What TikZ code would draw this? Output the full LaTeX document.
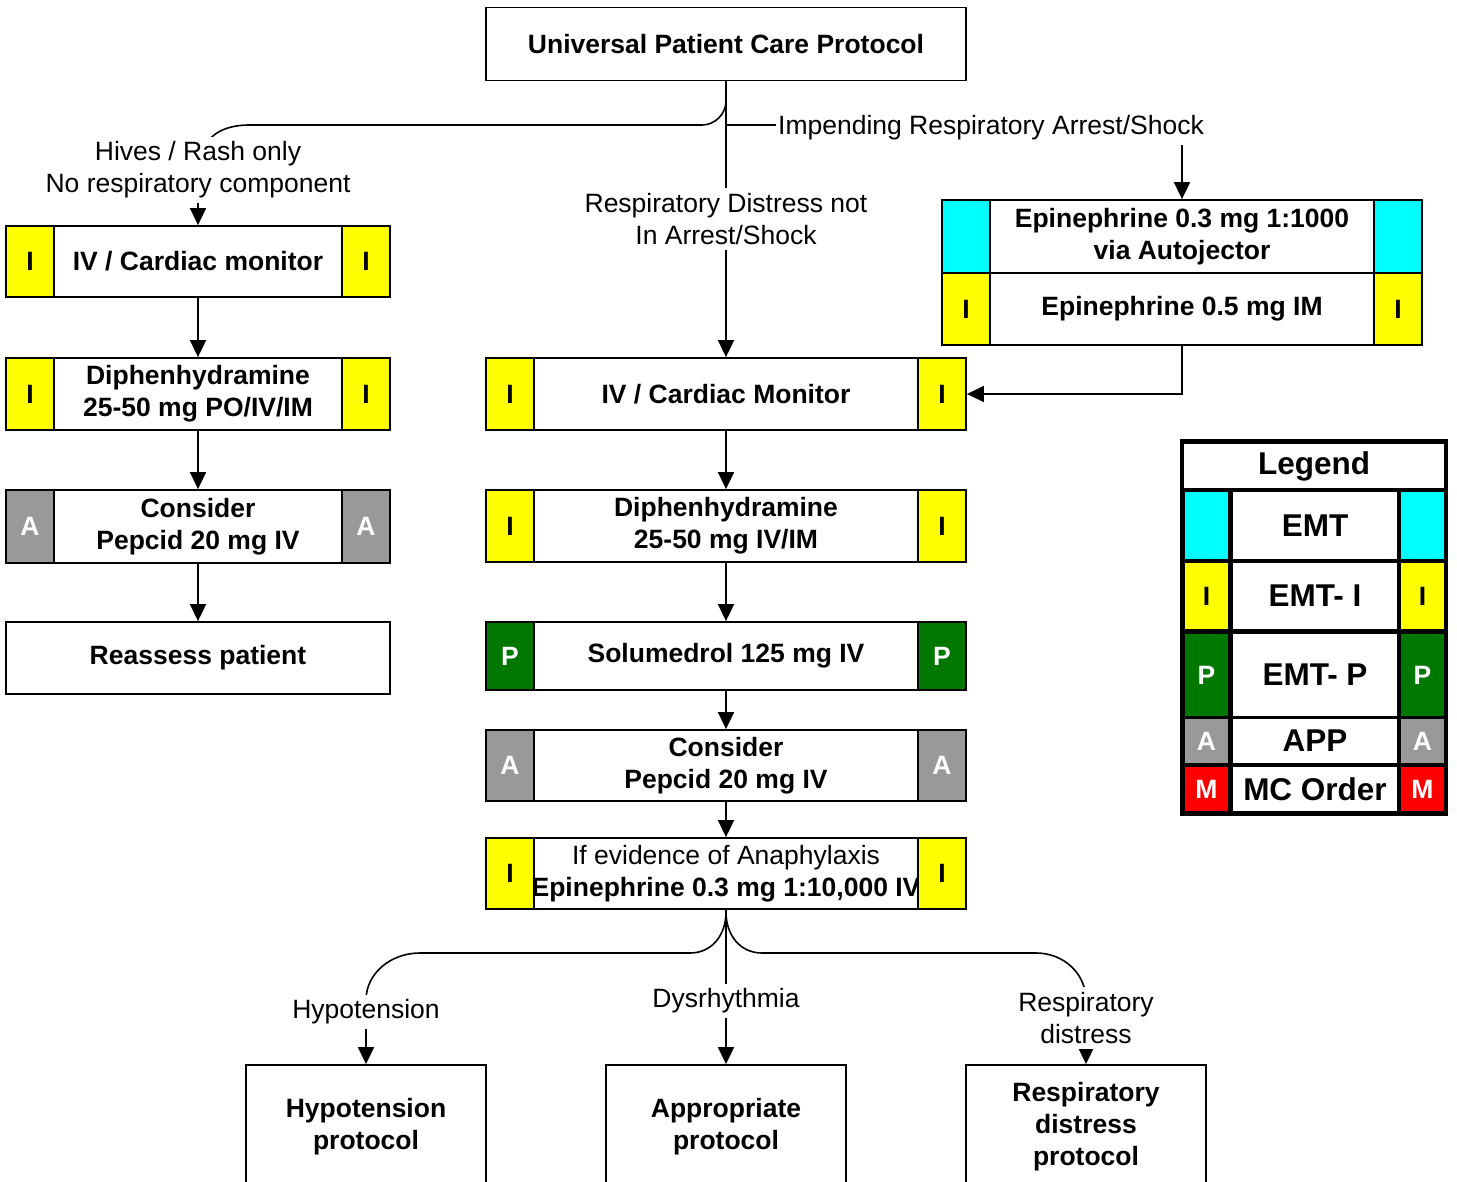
\documentclass[tikz,border=0pt]{standalone}
\usepackage{fontspec}
\setmainfont{Liberation Sans}
\usetikzlibrary{arrows.meta}
\definecolor{cyanB}{RGB}{0,255,255}
\definecolor{yellowB}{RGB}{255,255,0}
\definecolor{greenB}{RGB}{0,120,0}
\definecolor{grayB}{RGB}{153,153,153}
\definecolor{redB}{RGB}{255,0,0}
\newcommand\sidebadges[5]{%
  \node[badge, fill=#2, text=#4, minimum height=#5, anchor=north west] (#1-l) at (#1.north west) {#3};
  \node[badge, fill=#2, text=#4, minimum height=#5, anchor=north east] (#1-r) at (#1.north east) {#3};}
\begin{document}
\begin{tikzpicture}[x=1pt,y=-1pt,
  every node/.style={font=\fontsize{26.5}{32}\selectfont},
  box/.style={draw, line width=1.8pt, fill=white, align=center, inner sep=0pt,
    font=\bfseries\fontsize{26.5}{32}\selectfont},
  badge/.style={draw, line width=1.8pt, minimum width=48pt, inner sep=0pt,
    font=\bfseries\fontsize{26.5}{32}\selectfont},
  lbl/.style={fill=white, align=center, inner xsep=2pt, inner ysep=5pt},
  arr/.style={line width=1.6pt, -{Triangle[length=17pt,width=16pt]}},
  lgcell/.style={inner sep=0pt, font=\bfseries\fontsize{31.5}{36}\selectfont},
  lgbadge/.style={inner sep=0pt, minimum width=43pt, font=\bfseries\fontsize{26.5}{32}\selectfont},
]
\useasboundingbox (0,0) rectangle (1457,1182);
\clip (0,0) rectangle (1457,1182);

% ---- top box
\node[box, minimum width=480pt, minimum height=73pt] (upc) at (726,44) {Universal Patient Care Protocol};

% ---- left column
\node[box, minimum width=384pt, minimum height=71pt] (iva) at (198,261.5) {IV / Cardiac monitor};
\node[box, minimum width=384pt, minimum height=72pt] (dpa) at (198,394) {Diphenhydramine\\25-50 mg PO/IV/IM};
\node[box, minimum width=384pt, minimum height=73pt] (ppa) at (198,526.5) {Consider\\Pepcid 20 mg IV};
\node[box, minimum width=384pt, minimum height=72pt] (rea) at (198,658) {Reassess patient};
\sidebadges{iva}{yellowB}{I}{black}{71pt}
\sidebadges{dpa}{yellowB}{I}{black}{72pt}
\sidebadges{ppa}{grayB}{A}{white}{73pt}

% ---- middle column
\node[box, minimum width=480pt, minimum height=72pt] (ivb) at (726,394) {IV / Cardiac Monitor};
\node[box, minimum width=480pt, minimum height=72pt] (dpb) at (726,526) {Diphenhydramine\\25-50 mg IV/IM};
\node[box, minimum width=480pt, minimum height=68pt] (solu) at (726,656) {Solumedrol 125 mg IV};
\node[box, minimum width=480pt, minimum height=71pt] (ppb) at (726,765.5) {Consider\\Pepcid 20 mg IV};
\node[box, minimum width=480pt, minimum height=71pt] (ana) at (726,873.5) {{\mdseries If evidence of Anaphylaxis}\\Epinephrine 0.3 mg 1:10,000 IV};
\sidebadges{ivb}{yellowB}{I}{black}{72pt}
\sidebadges{dpb}{yellowB}{I}{black}{72pt}
\sidebadges{solu}{greenB}{P}{white}{68pt}
\sidebadges{ppb}{grayB}{A}{white}{71pt}
\sidebadges{ana}{yellowB}{I}{black}{71pt}

% ---- right group
\node[box, minimum width=480pt, minimum height=73pt] (epa) at (1182,236.5) {Epinephrine 0.3 mg 1:1000\\via Autojector};
\node[box, minimum width=480pt, minimum height=72pt] (epb) at (1182,309) {Epinephrine 0.5 mg IM};
\sidebadges{epa}{cyanB}{}{black}{73pt}
\sidebadges{epb}{yellowB}{I}{black}{72pt}

% ---- bottom boxes
\node[box, minimum width=240pt, minimum height=124pt] (hypo) at (366,1127) {Hypotension\\protocol};
\node[box, minimum width=240pt, minimum height=124pt] (appr) at (726,1127) {Appropriate\\protocol};
\node[box, minimum width=240pt, minimum height=124pt] (resp) at (1086,1127) {Respiratory\\distress\\protocol};

% ---- connectors
\draw[arr] (upc.south) -- (726,101) .. controls (726,114) and (715,125) .. (702,125) -- (250,125)
  .. controls (215,125) and (198,142) .. (198,177) -- (iva.north);
\draw[arr] (upc.south) -- (ivb.north);
\draw[arr] (upc.south) -- (726,125) -| (epa.north);
\draw[arr] (epb.south) |- (ivb.east);
\draw[arr] (iva) -- (dpa);
\draw[arr] (dpa) -- (ppa);
\draw[arr] (ppa) -- (rea);
\draw[arr] (ivb) -- (dpb);
\draw[arr] (dpb) -- (solu);
\draw[arr] (solu) -- (ppb);
\draw[arr] (ppb) -- (ana);
\draw[arr] (ana.south) -- (726,912) .. controls (726,935) and (712,953) .. (690,953) -- (420,953)
  .. controls (390,953) and (366,974) .. (366,1000) -- (hypo.north);
\draw[arr] (ana.south) -- (726,912) .. controls (726,935) and (740,953) .. (762,953) -- (1036,953)
  .. controls (1064,953) and (1086,974) .. (1086,1000) -- (resp.north);
\draw[arr] (ana) -- (appr);

% ---- connector labels
\node[lbl] (lhives) at (198,170) {Hives / Rash only\\No respiratory component};
\node[lbl] (lresp) at (726,219) {Respiratory Distress not\\In Arrest/Shock};
\node[lbl] (limp) at (991,128) {Impending Respiratory Arrest/Shock};
\node[lbl] (lhypo) at (366,1012) {Hypotension};
\node[lbl] (ldys) at (726,1001) {Dysrhythmia};
\node[lbl] (lrd) at (1086,1018) {Respiratory\\distress};

% ---- legend
\fill[black] (1180,439) rectangle (1448,816);
\node[lgcell, fill=white, minimum width=260pt, minimum height=44pt] (lg) at (1314,466) {Legend};
\foreach \nm/\ya/\yb/\col/\lt/\tc/\tx in {
   emt/492/559/cyanB//black/EMT,
   emti/563/629/yellowB/I/black/EMT- I,
   emtp/634/716/greenB/P/white/EMT- P,
   app/719/763/grayB/A/white/APP,
   mc/767/811/redB/M/white/MC Order}{
  \node[lgbadge, fill=\col, text=\tc, minimum height=\yb pt-\ya pt] (\nm-l) at (1206.5,{(\ya+\yb)/2}) {\lt};
  \node[lgcell, fill=white, minimum width=164pt, minimum height=\yb pt-\ya pt] (\nm-m) at (1315,{(\ya+\yb)/2}) {\tx};
  \node[lgbadge, fill=\col, text=\tc, minimum height=\yb pt-\ya pt] (\nm-r) at (1422.5,{(\ya+\yb)/2}) {\lt};
}
\end{tikzpicture}
\end{document}
